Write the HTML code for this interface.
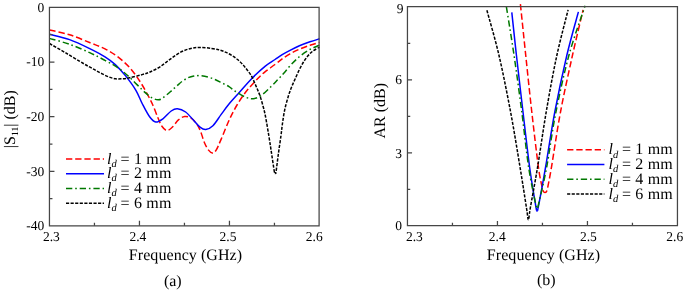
<!DOCTYPE html>
<html><head><meta charset="utf-8"><title>fig</title>
<style>
html,body{margin:0;padding:0;background:#fff;}
svg{display:block;}
text{filter:grayscale(1);text-rendering:geometricPrecision;font-family:"Liberation Serif","Times New Roman",serif;fill:#000;}
.t{font-size:13.5px;}
.l{font-size:16px;}
.i{font-style:italic;}
</style></head><body>
<svg width="685" height="291" viewBox="0 0 685 291">
<rect width="685" height="291" fill="#fff"/>
<path d="M49.50,30.00 C52.85,30.80 62.82,32.67 69.60,34.80 C76.38,36.93 84.30,40.45 90.20,42.80 C96.10,45.15 100.47,46.60 105.00,48.90 C109.53,51.20 113.28,53.48 117.40,56.60 C121.52,59.72 125.93,63.45 129.70,67.60 C133.47,71.75 137.03,77.02 140.00,81.50 C142.97,85.98 145.40,90.67 147.50,94.50 C149.60,98.33 150.88,100.67 152.60,104.50 C154.32,108.33 156.25,113.87 157.80,117.50 C159.35,121.13 160.38,124.13 161.90,126.30 C163.42,128.47 165.18,130.33 166.90,130.50 C168.62,130.67 170.28,129.07 172.20,127.30 C174.12,125.53 176.33,121.70 178.40,119.90 C180.47,118.10 182.55,116.85 184.60,116.50 C186.65,116.15 188.82,116.73 190.70,117.80 C192.58,118.87 194.35,120.87 195.90,122.90 C197.45,124.93 198.53,126.62 200.00,130.00 C201.47,133.38 203.23,139.80 204.70,143.20 C206.17,146.60 207.53,148.75 208.80,150.40 C210.07,152.05 211.10,153.10 212.30,153.10 C213.50,153.10 214.52,152.73 216.00,150.40 C217.48,148.07 218.97,144.23 221.20,139.10 C223.43,133.97 226.77,125.28 229.40,119.60 C232.03,113.92 234.40,109.43 237.00,105.00 C239.60,100.57 242.50,96.37 245.00,93.00 C247.50,89.63 249.83,87.25 252.00,84.80 C254.17,82.35 255.83,80.47 258.00,78.30 C260.17,76.13 262.17,74.10 265.00,71.80 C267.83,69.50 272.13,66.65 275.00,64.50 C277.87,62.35 279.70,60.67 282.20,58.90 C284.70,57.13 287.13,55.52 290.00,53.90 C292.87,52.28 296.07,50.65 299.40,49.20 C302.73,47.75 306.65,46.33 310.00,45.20 C313.35,44.07 317.92,42.87 319.50,42.40" fill="none" stroke="#ff0000" stroke-width="1.50" stroke-dasharray="6.3 2.9"/>
<path d="M49.50,34.30 C52.85,35.18 62.82,37.18 69.60,39.60 C76.38,42.02 84.30,45.93 90.20,48.80 C96.10,51.67 100.82,54.17 105.00,56.80 C109.18,59.43 111.87,61.42 115.30,64.60 C118.73,67.78 122.17,71.62 125.60,75.90 C129.03,80.18 133.10,85.62 135.90,90.30 C138.70,94.98 140.12,99.58 142.40,104.00 C144.68,108.42 147.38,113.80 149.60,116.80 C151.82,119.80 153.48,121.67 155.70,122.00 C157.92,122.33 160.32,120.63 162.90,118.80 C165.48,116.97 168.78,112.67 171.20,111.00 C173.62,109.33 175.00,108.63 177.40,108.80 C179.80,108.97 182.87,110.05 185.60,112.00 C188.33,113.95 191.40,117.98 193.80,120.50 C196.20,123.02 198.02,125.60 200.00,127.10 C201.98,128.60 203.55,129.73 205.70,129.50 C207.85,129.27 210.32,128.22 212.90,125.70 C215.48,123.18 218.52,118.02 221.20,114.40 C223.88,110.78 225.92,107.73 229.00,104.00 C232.08,100.27 235.85,96.30 239.70,92.00 C243.55,87.70 247.88,82.48 252.10,78.20 C256.32,73.92 261.18,69.42 265.00,66.30 C268.82,63.18 272.13,61.45 275.00,59.50 C277.87,57.55 279.70,56.13 282.20,54.60 C284.70,53.07 287.13,51.77 290.00,50.30 C292.87,48.83 296.07,47.22 299.40,45.80 C302.73,44.38 306.65,42.97 310.00,41.80 C313.35,40.63 317.92,39.30 319.50,38.80" fill="none" stroke="#0000ff" stroke-width="1.50"/>
<path d="M49.50,38.40 C52.85,39.38 62.82,41.88 69.60,44.30 C76.38,46.72 84.30,50.22 90.20,52.90 C96.10,55.58 100.47,57.98 105.00,60.40 C109.53,62.82 113.28,64.57 117.40,67.40 C121.52,70.23 125.58,73.67 129.70,77.40 C133.82,81.13 138.83,86.70 142.10,89.80 C145.37,92.90 147.23,94.47 149.30,96.00 C151.37,97.53 152.98,98.38 154.50,99.00 C156.02,99.62 157.18,99.75 158.40,99.70 C159.62,99.65 160.45,99.48 161.80,98.70 C163.15,97.92 164.85,96.37 166.50,95.00 C168.15,93.63 169.95,92.03 171.70,90.50 C173.45,88.97 175.25,87.33 177.00,85.80 C178.75,84.27 180.37,82.63 182.20,81.30 C184.03,79.97 186.05,78.68 188.00,77.80 C189.95,76.92 191.90,76.35 193.90,76.00 C195.90,75.65 197.65,75.52 200.00,75.70 C202.35,75.88 205.50,76.47 208.00,77.10 C210.50,77.73 212.67,78.52 215.00,79.50 C217.33,80.48 219.67,81.82 222.00,83.00 C224.33,84.18 226.73,85.18 229.00,86.60 C231.27,88.02 232.78,89.72 235.60,91.50 C238.42,93.28 242.93,96.10 245.90,97.30 C248.87,98.50 250.83,99.02 253.40,98.70 C255.97,98.38 258.43,97.35 261.30,95.40 C264.17,93.45 267.83,89.65 270.60,87.00 C273.37,84.35 275.67,81.83 277.90,79.50 C280.13,77.17 281.85,75.42 284.00,73.00 C286.15,70.58 288.30,67.67 290.80,65.00 C293.30,62.33 296.13,59.40 299.00,57.00 C301.87,54.60 305.50,52.18 308.00,50.60 C310.50,49.02 312.08,48.42 314.00,47.50 C315.92,46.58 318.58,45.50 319.50,45.10" fill="none" stroke="#007800" stroke-width="1.50" stroke-dasharray="6.3 2.9 1.6 2.9"/>
<path d="M49.50,43.50 C52.28,45.12 60.55,49.87 66.20,53.20 C71.85,56.53 79.43,61.17 83.40,63.50 C87.37,65.83 87.90,66.02 90.00,67.20 C92.10,68.38 93.95,69.48 96.00,70.60 C98.05,71.72 100.13,72.83 102.30,73.90 C104.47,74.97 106.75,76.18 109.00,77.00 C111.25,77.82 113.47,78.52 115.80,78.80 C118.13,79.08 120.68,78.88 123.00,78.70 C125.32,78.52 126.52,78.38 129.70,77.70 C132.88,77.02 138.72,75.55 142.10,74.60 C145.48,73.65 147.02,73.30 150.00,72.00 C152.98,70.70 156.62,68.95 160.00,66.80 C163.38,64.65 166.87,61.53 170.30,59.10 C173.73,56.67 177.17,53.98 180.60,52.20 C184.03,50.42 187.60,49.20 190.90,48.40 C194.20,47.60 196.97,47.40 200.40,47.40 C203.83,47.40 208.23,47.95 211.50,48.40 C214.77,48.85 217.58,49.43 220.00,50.10 C222.42,50.77 223.97,51.48 226.00,52.40 C228.03,53.32 230.28,54.42 232.20,55.60 C234.12,56.78 235.78,58.07 237.50,59.50 C239.22,60.93 240.92,62.50 242.50,64.20 C244.08,65.90 245.57,67.83 247.00,69.70 C248.43,71.57 249.85,73.27 251.10,75.40 C252.35,77.53 253.43,80.15 254.50,82.50 C255.57,84.85 256.55,87.17 257.50,89.50 C258.45,91.83 259.28,93.75 260.20,96.50 C261.12,99.25 262.13,102.75 263.00,106.00 C263.87,109.25 264.42,110.97 265.40,116.00 C266.38,121.03 267.87,129.92 268.90,136.20 C269.93,142.48 270.70,147.82 271.60,153.70 C272.50,159.58 273.78,168.30 274.30,171.50 C274.82,174.70 274.55,172.58 274.70,172.90 C274.85,173.22 275.03,173.40 275.20,173.40 C275.37,173.40 275.55,173.22 275.70,172.90 C275.85,172.58 275.65,174.70 276.10,171.50 C276.55,168.30 277.60,159.58 278.40,153.70 C279.20,147.82 280.23,141.15 280.90,136.20 C281.57,131.25 281.75,128.47 282.40,124.00 C283.05,119.53 283.75,114.23 284.80,109.40 C285.85,104.57 287.50,98.90 288.70,95.00 C289.90,91.10 290.93,88.67 292.00,86.00 C293.07,83.33 293.87,81.75 295.10,79.00 C296.33,76.25 298.00,72.33 299.40,69.50 C300.80,66.67 302.07,64.28 303.50,62.00 C304.93,59.72 306.42,57.63 308.00,55.80 C309.58,53.97 311.08,52.43 313.00,51.00 C314.92,49.57 318.42,47.83 319.50,47.20" fill="none" stroke="#000000" stroke-width="1.50" stroke-dasharray="3.15 1.43"/>
<path d="M49.45,7.45 H319.10 V225.85 H49.45 Z" fill="none" stroke="#464646" stroke-width="1.25"/>
<path d="M139.45,225.85 v-5 M229.45,225.85 v-5 M94.45,225.85 v-3 M184.45,225.85 v-3 M274.45,225.85 v-3 M49.45,62.00 h5 M49.45,116.50 h5 M49.45,171.45 h5 M49.45,34.70 h3 M49.45,89.25 h3 M49.45,144.00 h3 M49.45,198.70 h3 " fill="none" stroke="#464646" stroke-width="1.25"/>
<text class="t" x="44.25" y="11.80" text-anchor="end">0</text>
<text class="t" x="44.25" y="66.25" text-anchor="end">-10</text>
<text class="t" x="44.25" y="120.50" text-anchor="end">-20</text>
<text class="t" x="44.25" y="175.70" text-anchor="end">-30</text>
<text class="t" x="44.25" y="230.10" text-anchor="end">-40</text>
<text class="t" x="51.40" y="241" text-anchor="middle">2.3</text>
<text class="t" x="137.90" y="241" text-anchor="middle">2.4</text>
<text class="t" x="228.00" y="241" text-anchor="middle">2.5</text>
<text class="t" x="314.30" y="241" text-anchor="middle">2.6</text>
<text class="l" x="185.5" y="259.8" text-anchor="middle" letter-spacing="0.06">Frequency (GHz)</text>
<text class="l" x="172.8" y="285.6" text-anchor="middle">(a)</text>
<text class="l" transform="translate(15.4,119.2) rotate(-90)" text-anchor="middle">|S<tspan font-size="9.6px" dy="3">11</tspan><tspan dy="-3">| (dB)</tspan></text>
<path d="M66.00,158.90 H104.00" fill="none" stroke="#ff0000" stroke-width="1.50" stroke-dasharray="6.3 2.9"/>
<text class="l" x="107.10" y="163.70"><tspan class="i">l</tspan><tspan class="i" font-size="10.5px" dy="3.1">d</tspan><tspan dy="-3.1" dx="-0.5" letter-spacing="0.2"> = 1 mm</tspan></text>
<path d="M66.00,173.75 H104.00" fill="none" stroke="#0000ff" stroke-width="1.50"/>
<text class="l" x="107.10" y="178.30"><tspan class="i">l</tspan><tspan class="i" font-size="10.5px" dy="3.1">d</tspan><tspan dy="-3.1" dx="-0.5" letter-spacing="0.2"> = 2 mm</tspan></text>
<path d="M66.00,188.50 H104.00" fill="none" stroke="#007800" stroke-width="1.50" stroke-dasharray="6.3 2.9 1.6 2.9"/>
<text class="l" x="107.10" y="193.00"><tspan class="i">l</tspan><tspan class="i" font-size="10.5px" dy="3.1">d</tspan><tspan dy="-3.1" dx="-0.5" letter-spacing="0.2"> = 4 mm</tspan></text>
<path d="M66.00,203.30 H104.00" fill="none" stroke="#000000" stroke-width="1.50" stroke-dasharray="3.15 1.43"/>
<text class="l" x="107.10" y="207.60"><tspan class="i">l</tspan><tspan class="i" font-size="10.5px" dy="3.1">d</tspan><tspan dy="-3.1" dx="-0.5" letter-spacing="0.2"> = 6 mm</tspan></text>
<path d="M520.40,4.10 C521.28,12.58 523.80,37.02 525.70,55.00 C527.60,72.98 529.68,93.33 531.80,112.00 C533.92,130.67 536.70,154.58 538.40,167.00 C540.10,179.42 541.23,182.57 542.00,186.50 C542.77,190.43 542.70,189.68 543.00,190.60 C543.30,191.52 543.47,191.70 543.80,192.00 C544.13,192.30 544.60,192.40 545.00,192.40 C545.40,192.40 545.85,192.40 546.20,192.00 C546.55,191.60 546.80,191.00 547.10,190.00 C547.40,189.00 547.27,189.83 548.00,186.00 C548.73,182.17 549.42,179.33 551.50,167.00 C553.58,154.67 557.07,130.33 560.50,112.00 C563.93,93.67 568.33,74.02 572.10,57.00 C575.87,39.98 581.27,17.75 583.10,9.90" fill="none" stroke="#ff0000" stroke-width="1.50" stroke-dasharray="6.4 2.975"/>
<path d="M511.80,12.40 C512.57,19.50 514.53,38.40 516.40,55.00 C518.27,71.60 520.80,93.33 523.00,112.00 C525.20,130.67 527.50,151.50 529.60,167.00 C531.70,182.50 534.35,197.72 535.60,205.00 C536.85,212.28 536.58,210.70 537.10,210.70 C537.62,210.70 537.28,212.28 538.70,205.00 C540.12,197.72 542.92,182.50 545.60,167.00 C548.28,151.50 551.25,130.67 554.80,112.00 C558.35,93.33 562.97,71.68 566.90,55.00 C570.83,38.32 576.48,19.08 578.40,11.90" fill="none" stroke="#0000ff" stroke-width="1.50"/>
<path d="M506.40,6.80 C507.67,14.83 511.43,37.47 514.00,55.00 C516.57,72.53 519.37,93.33 521.80,112.00 C524.23,130.67 526.32,151.83 528.60,167.00 C530.88,182.17 534.08,196.10 535.50,203.00 C536.92,209.90 536.55,208.40 537.10,208.40 C537.65,208.40 537.20,209.90 538.80,203.00 C540.40,196.10 543.90,181.88 546.70,167.00 C549.50,152.12 551.88,132.37 555.60,113.70 C559.32,95.03 564.08,72.98 569.00,55.00 C573.92,37.02 582.42,14.00 585.10,5.80" fill="none" stroke="#007800" stroke-width="1.50" stroke-dasharray="6.3 2.9 1.6 2.9"/>
<path d="M486.90,10.30 C488.90,17.75 494.95,38.05 498.90,55.00 C502.85,71.95 507.08,93.33 510.60,112.00 C514.12,130.67 517.35,151.00 520.00,167.00 C522.65,183.00 525.10,199.20 526.50,208.00 C527.90,216.80 527.77,219.80 528.40,219.80 C529.03,219.80 528.77,216.80 530.30,208.00 C531.83,199.20 534.95,183.00 537.60,167.00 C540.25,151.00 543.05,130.33 546.20,112.00 C549.35,93.67 552.85,74.02 556.50,57.00 C560.15,39.98 566.17,17.75 568.10,9.90" fill="none" stroke="#000000" stroke-width="1.50" stroke-dasharray="3.15 1.43"/>
<path d="M407.45,6.70 H677.45 V225.50 H407.45 Z" fill="none" stroke="#464646" stroke-width="1.25"/>
<path d="M497.45,225.50 v-4.6 M587.45,225.50 v-4.6 M452.45,225.50 v-2.8 M542.45,225.50 v-2.8 M632.45,225.50 v-2.8 M407.45,79.85 h4.6 M407.45,152.85 h4.6 M407.45,43.35 h2.8 M407.45,116.35 h2.8 M407.45,189.35 h2.8 " fill="none" stroke="#464646" stroke-width="1.25"/>
<text class="t" x="403.40" y="13.00" text-anchor="end">9</text>
<text class="t" x="402.00" y="83.60" text-anchor="end">6</text>
<text class="t" x="402.00" y="158.30" text-anchor="end">3</text>
<text class="t" x="402.00" y="230.00" text-anchor="end">0</text>
<text class="t" x="414.40" y="241" text-anchor="middle">2.3</text>
<text class="t" x="497.20" y="241" text-anchor="middle">2.4</text>
<text class="t" x="588.40" y="241" text-anchor="middle">2.5</text>
<text class="t" x="674.70" y="241" text-anchor="middle">2.6</text>
<text class="l" x="543.5" y="260.2" text-anchor="middle" letter-spacing="0.06">Frequency (GHz)</text>
<text class="l" x="546.3" y="285.0" text-anchor="middle">(b)</text>
<text class="l" transform="translate(385.4,110.8) rotate(-90)" text-anchor="middle">AR (dB)</text>
<path d="M567.10,149.80 H604.40" fill="none" stroke="#ff0000" stroke-width="1.50" stroke-dasharray="6.3 2.9"/>
<text class="l" x="608.50" y="154.40"><tspan class="i">l</tspan><tspan class="i" font-size="10.5px" dy="3.1">d</tspan><tspan dy="-3.1" dx="-0.5" letter-spacing="0.2"> = 1 mm</tspan></text>
<path d="M567.10,164.50 H604.40" fill="none" stroke="#0000ff" stroke-width="1.50"/>
<text class="l" x="608.50" y="169.30"><tspan class="i">l</tspan><tspan class="i" font-size="10.5px" dy="3.1">d</tspan><tspan dy="-3.1" dx="-0.5" letter-spacing="0.2"> = 2 mm</tspan></text>
<path d="M567.10,179.30 H604.40" fill="none" stroke="#007800" stroke-width="1.50" stroke-dasharray="6.3 2.9 1.6 2.9"/>
<text class="l" x="608.50" y="184.20"><tspan class="i">l</tspan><tspan class="i" font-size="10.5px" dy="3.1">d</tspan><tspan dy="-3.1" dx="-0.5" letter-spacing="0.2"> = 4 mm</tspan></text>
<path d="M567.10,194.10 H604.40" fill="none" stroke="#000000" stroke-width="1.50" stroke-dasharray="3.15 1.43"/>
<text class="l" x="608.50" y="198.50"><tspan class="i">l</tspan><tspan class="i" font-size="10.5px" dy="3.1">d</tspan><tspan dy="-3.1" dx="-0.5" letter-spacing="0.2"> = 6 mm</tspan></text>
</svg>
</body></html>
